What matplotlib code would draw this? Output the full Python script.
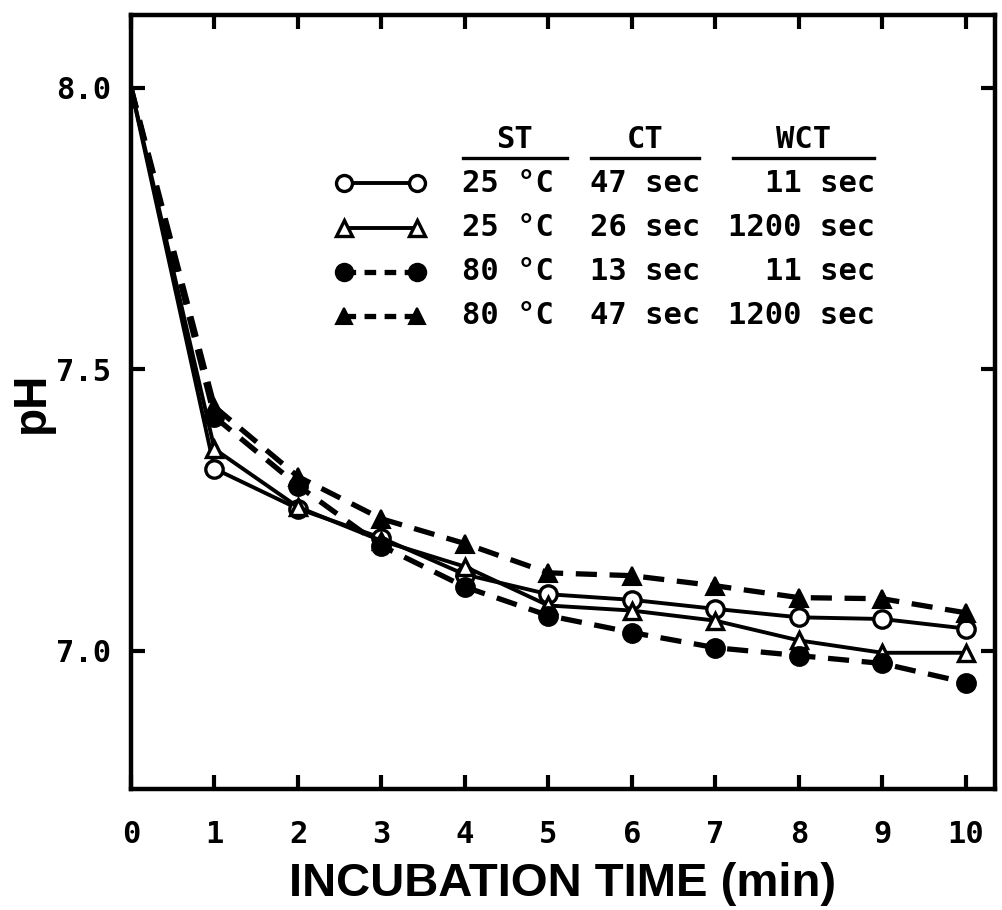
import matplotlib
matplotlib.use("Agg")
import matplotlib.pyplot as plt
from matplotlib.lines import Line2D

# ---- data ----
time_min = [0, 1, 2, 3, 4, 5, 6, 7, 8, 9, 10]
ph_25_47_11 = [8.0, 7.323, 7.252, 7.200, 7.135, 7.100, 7.090, 7.074, 7.059, 7.056, 7.039]
ph_25_26_1200 = [8.0, 7.358, 7.255, 7.195, 7.149, 7.080, 7.071, 7.053, 7.018, 6.996, 6.996]
ph_80_13_11 = [8.0, 7.415, 7.293, 7.186, 7.113, 7.062, 7.032, 7.005, 6.991, 6.977, 6.943]
ph_80_47_1200 = [8.0, 7.433, 7.309, 7.234, 7.190, 7.138, 7.133, 7.115, 7.094, 7.092, 7.067]

st_labels = ["25 \u00b0C", "25 \u00b0C", "80 \u00b0C", "80 \u00b0C"]
ct_labels = ["47 sec", "26 sec", "13 sec", "47 sec"]
wct_labels = ["11 sec", "1200 sec", "11 sec", "1200 sec"]
headers = ["ST", "CT", "WCT"]

x_ticks = [0, 1, 2, 3, 4, 5, 6, 7, 8, 9, 10]
y_ticks = [7.0, 7.5, 8.0]
y_tick_labels = ["7.0", "7.5", "8.0"]

MONO = "DejaVu Sans Mono"
SANS = "Liberation Sans"

fig = plt.figure(figsize=(10.03, 9.10), dpi=100)
ax = fig.add_axes([131 / 1003, 1 - 789 / 910, 864 / 1003, 774 / 910])

lw_solid = 2.8
lw_dash = 3.8
dash = (0, (4.0, 2.4))
ms = 12.5
styles = [
    dict(color="black", lw=lw_solid, ls="-", marker="o", mfc="white", mec="black", mew=2.4, ms=ms),
    dict(color="black", lw=lw_solid, ls="-", marker="^", mfc="white", mec="black", mew=2.4, ms=ms - 0.5),
    dict(color="black", lw=lw_dash, ls=dash, marker="o", mfc="black", mec="black", mew=1.5, ms=ms + 1),
    dict(color="black", lw=lw_dash, ls=dash, marker="^", mfc="black", mec="black", mew=1.5, ms=ms),
]
series = [ph_25_47_11, ph_25_26_1200, ph_80_13_11, ph_80_47_1200]

for ys, st in zip(series, styles):
    ax.plot(time_min[1:], ys[1:], zorder=3, **st)
    ax.plot(time_min[:2], ys[:2], color="black", lw=st["lw"], ls=st["ls"], zorder=2)

ax.set_xlim(0, 10.35)
ax.set_ylim(6.754, 8.129)
ax.set_xticks(x_ticks)
ax.set_xticklabels([str(t) for t in x_ticks], family=MONO, fontweight="bold", fontsize=22)
ax.set_yticks(y_ticks)
ax.set_yticklabels(y_tick_labels, family=MONO, fontweight="bold", fontsize=22)
ax.tick_params(axis="both", direction="in", length=10, width=3,
               top=True, right=True)
ax.tick_params(axis="x", pad=22)
ax.tick_params(axis="y", pad=14)
for sp in ax.spines.values():
    sp.set_linewidth(3.2)

ax.set_xlabel("INCUBATION TIME (min)", family=SANS, fontweight="heavy", fontsize=34, labelpad=10)
ax.set_ylabel("pH", family=SANS, fontweight="heavy", fontsize=33, labelpad=2)

# ---- legend table ----
def fx(px):
    return (px - 131) / 864

def fy(py):
    return (789 - py) / 774

row_y = [183, 228, 272, 316]
fs_leg = 22
for i, st in enumerate(styles):
    y = fy(row_y[i])
    kw = dict(st)
    kw["ms"] = kw["ms"] - 1
    if kw["ls"] != "-":
        kw["ls"] = (0, (2.2, 1.6))
    ln = Line2D([fx(344), fx(417)], [y, y], transform=ax.transAxes, clip_on=False, **kw)
    ax.add_line(ln)
    ax.text(fx(462), y, st_labels[i], transform=ax.transAxes, family=MONO, fontweight="bold",
            fontsize=fs_leg, ha="left", va="center")
    ax.text(fx(590), y, ct_labels[i], transform=ax.transAxes, family=MONO, fontweight="bold",
            fontsize=fs_leg, ha="left", va="center")
    ax.text(fx(875), y, wct_labels[i], transform=ax.transAxes, family=MONO, fontweight="bold",
            fontsize=fs_leg, ha="right", va="center")

hdr_spans = [(463, 567), (591, 699), (733, 874)]
for h, (a, b) in zip(headers, hdr_spans):
    ax.text(fx((a + b) / 2), fy(140), h, transform=ax.transAxes, family=MONO,
            fontweight="bold", fontsize=fs_leg, ha="center", va="center")
    ax.add_line(Line2D([fx(a), fx(b)], [fy(158), fy(158)], transform=ax.transAxes,
                       color="black", lw=2.4, clip_on=False))

fig.savefig("out.png", dpi=100)
